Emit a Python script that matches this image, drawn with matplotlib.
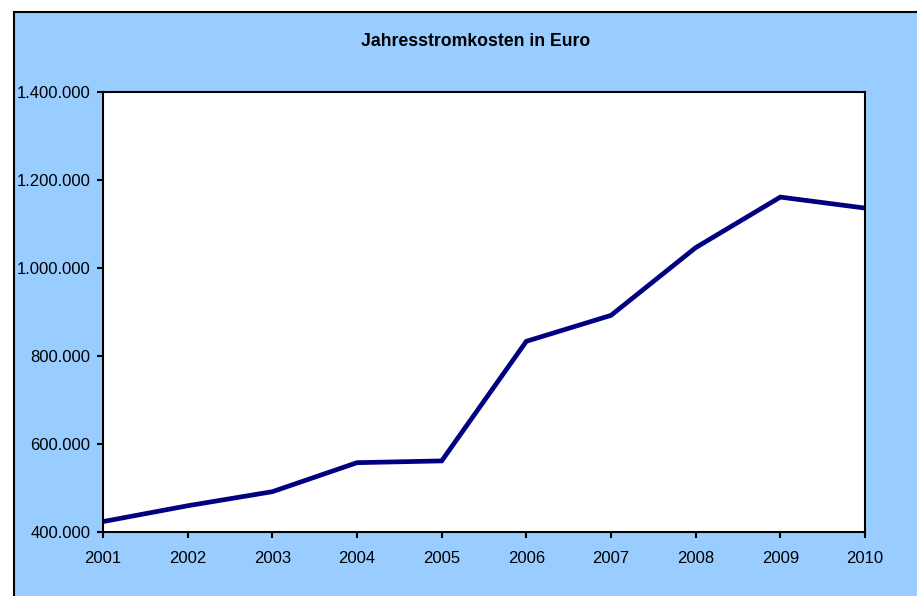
import matplotlib.pyplot as plt
from matplotlib.patches import Rectangle
from matplotlib.ticker import FuncFormatter

years = [2001, 2002, 2003, 2004, 2005, 2006, 2007, 2008, 2009, 2010]
kosten = [423000, 459000, 491000, 557000, 561000, 833000, 892000, 1046000, 1161000, 1136000]
y_ticks = [400000, 600000, 800000, 1000000, 1200000, 1400000]

plt.rcParams['font.family'] = ['Liberation Sans', 'DejaVu Sans']

W, H = 917, 596
fig = plt.figure(figsize=(W / 100, H / 100), dpi=100, facecolor='white')

# blue chart area with black border on left/top (right/bottom cut off)
bg = Rectangle((13.5 / W, -0.05), 1.1, 1.05 - 12.5 / H, transform=fig.transFigure,
               facecolor='#99CCFF', edgecolor='black', linewidth=1.5, zorder=-5)
fig.patches.append(bg)

ax = fig.add_axes([103 / W, 1 - 531.7 / H, (865 - 103) / W, (531.7 - 92) / H])
ax.set_facecolor('white')
ax.plot(years, kosten, color='#000080', linewidth=3.4, solid_joinstyle='miter')

ax.set_xlim(2001, 2010)
ax.set_ylim(400000, 1400000)
ax.set_xticks(years)
ax.set_yticks(y_ticks)
ax.yaxis.set_major_formatter(FuncFormatter(lambda v, p: f"{int(v):,}".replace(",", ".")))

for s in ax.spines.values():
    s.set_linewidth(1.5)
    s.set_color('black')
ax.tick_params(direction='out', length=4, width=1.5, labelsize=12)
ax.tick_params(axis='x', pad=10)
ax.tick_params(axis='y', pad=5)

fig.text(476 / W, 1 - 41 / H, "Jahresstromkosten in Euro", ha='center', va='center',
         fontsize=12.7, fontweight='bold')

fig.savefig('out.png', dpi=100, facecolor=fig.get_facecolor())
